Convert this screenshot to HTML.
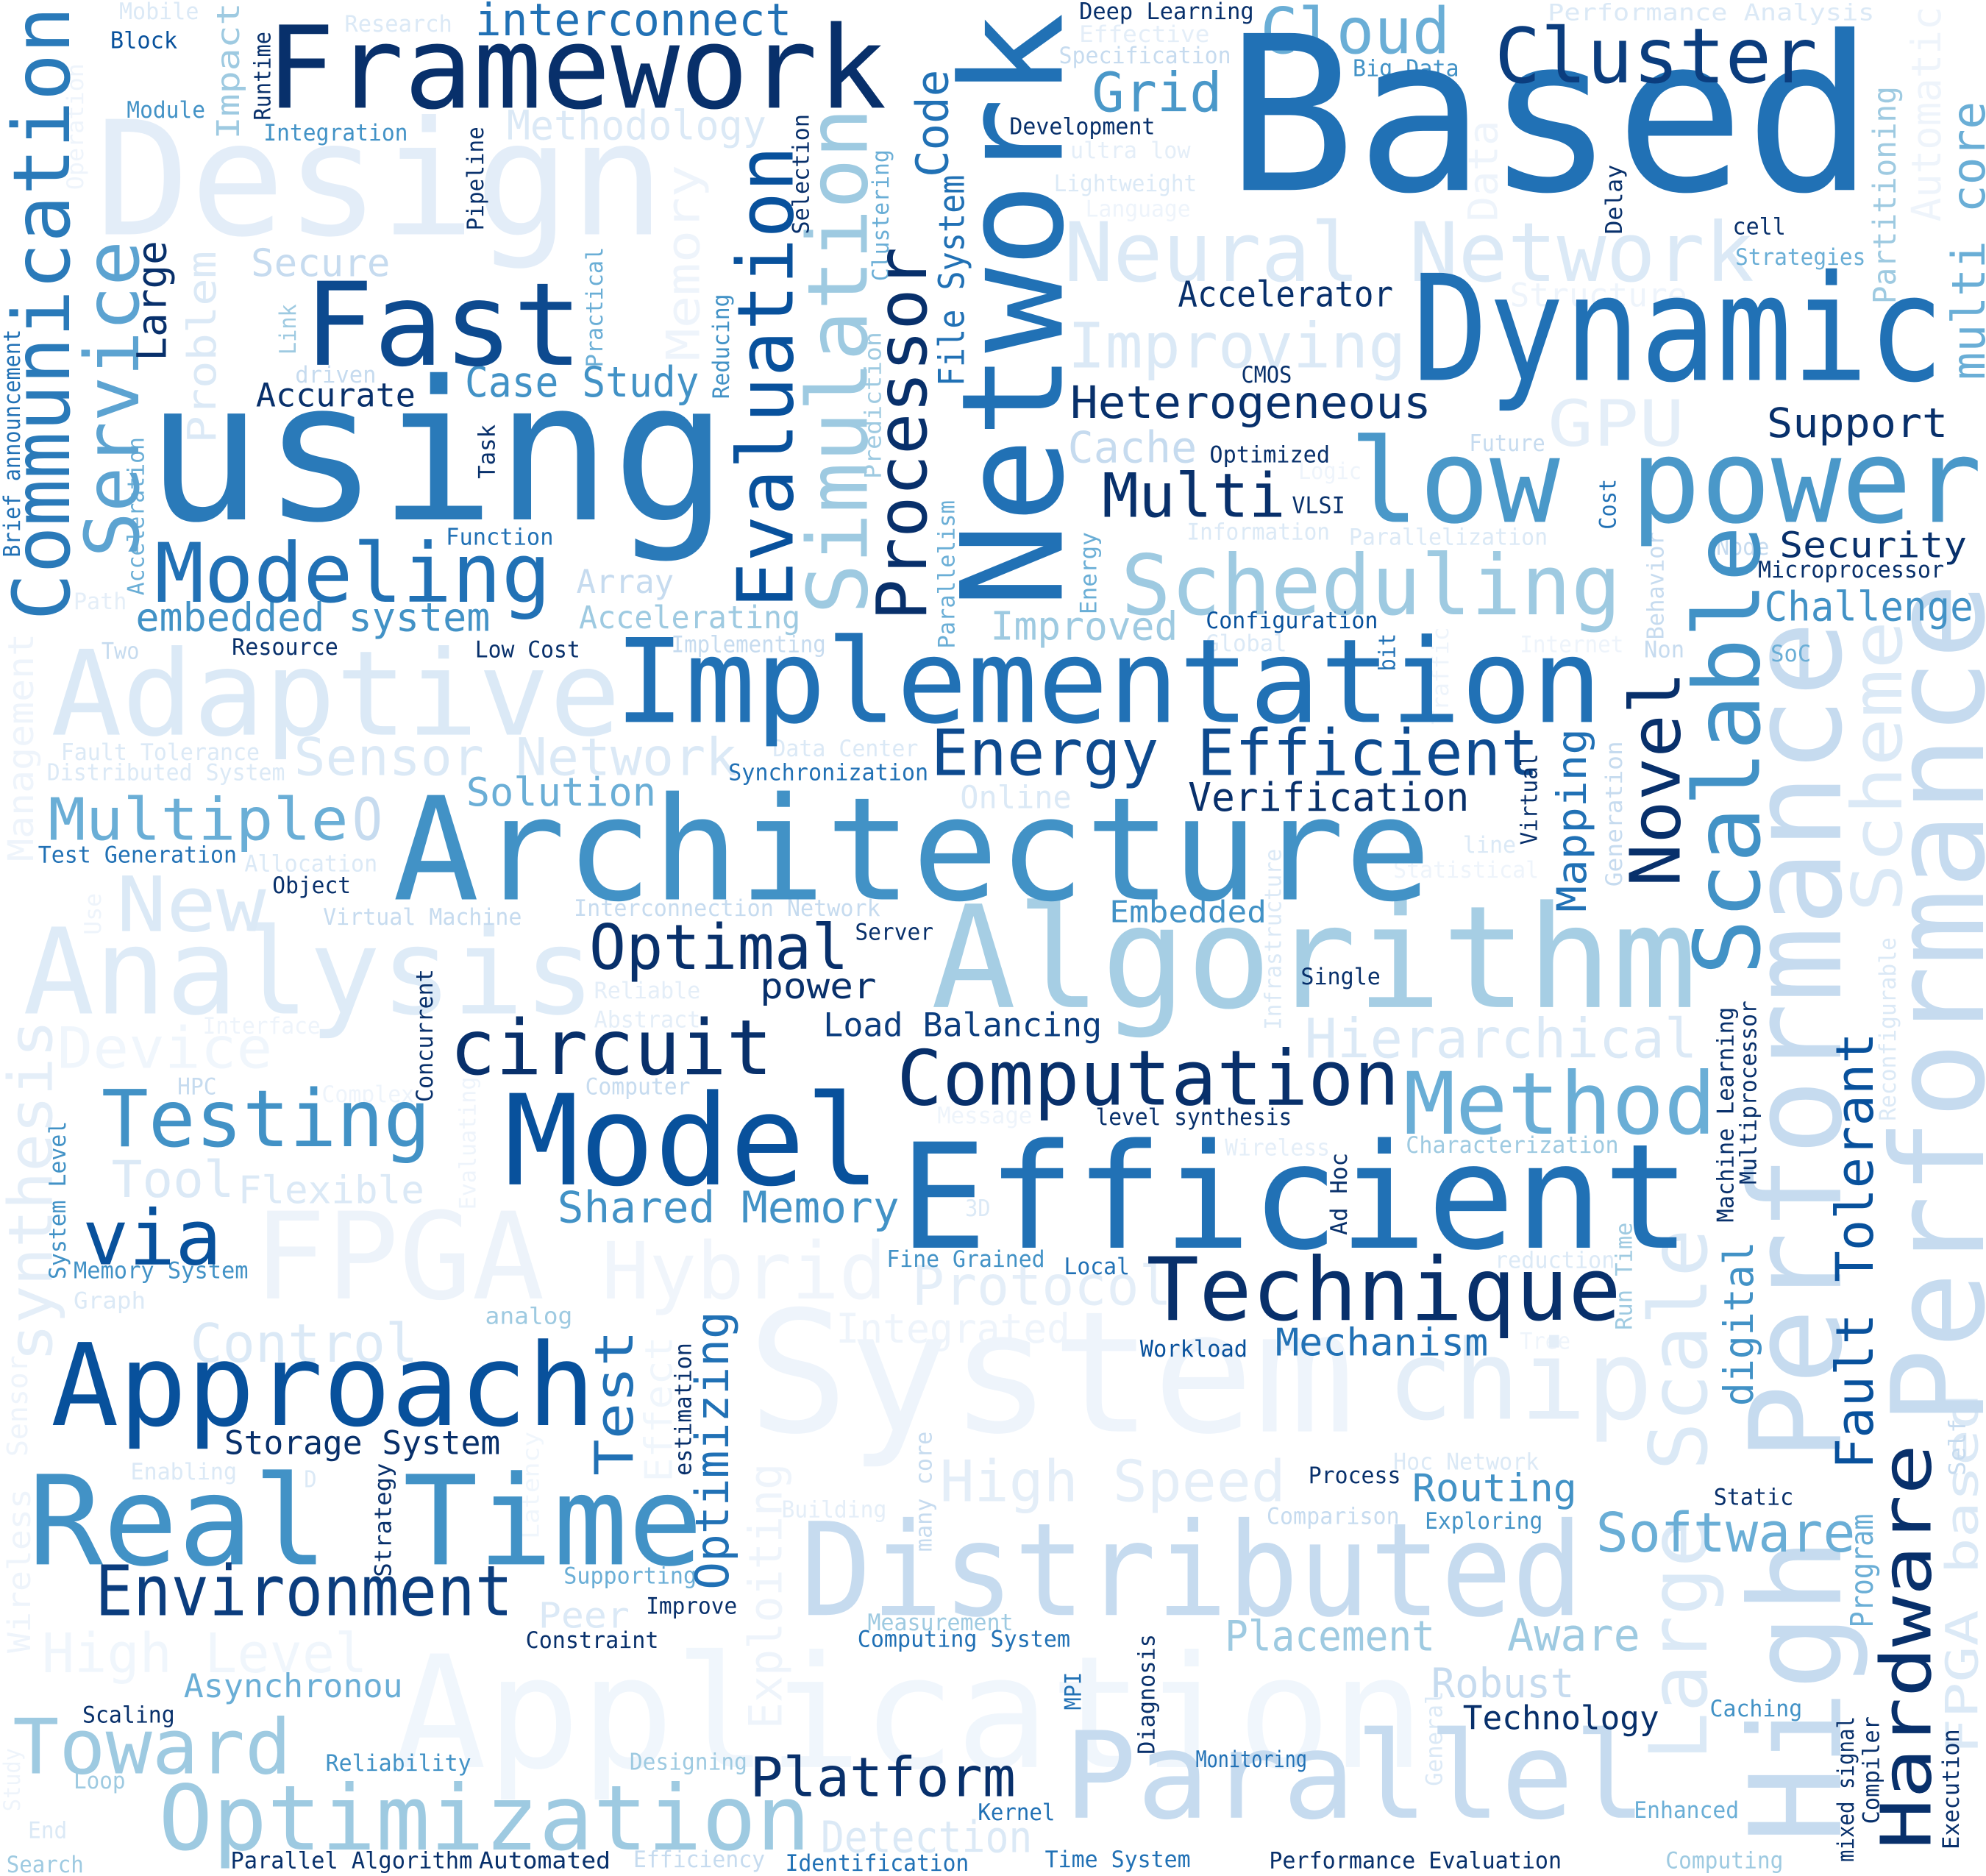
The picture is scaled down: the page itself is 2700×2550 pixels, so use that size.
<!DOCTYPE html>
<html>
<head>
<meta charset="utf-8">
<style>
  html,body{margin:0;padding:0;background:#fff;}
  #cloud{display:block;width:2700px;height:2550px;}
  text{font-family:"DejaVu Sans Mono","Liberation Mono",monospace;}
</style>
</head>
<body>
<svg id="cloud" viewBox="0 0 1568 1481" width="2700" height="2550" xmlns="http://www.w3.org/2000/svg">
  <rect x="0" y="0" width="1568" height="1481" fill="#ffffff"/>
  <g id="words"></g>
</svg>
<script>
// word, left, right, baseline(y), fontSize, color
const horizontalWords = [
["Based",968,1480,150,170,"#2171b5"],
["Design",75,525,185,125,"#e3edf8"],
["using",115,575,410,153,"#2a7ab9"],
["Framework",210,700,85,90,"#08306b"],
["Fast",240,460,288,91,"#0d4a8f"],
["Dynamic",1115,1535,300,116,"#2171b5"],
["low power",1065,1565,412,92,"#4a98c9"],
["Neural Network",840,1385,222,65,"#dbe9f6"],
["Cluster",1180,1435,65,60,"#0b3d7e"],
["Cloud",995,1145,42,50,"#6aaed6"],
["Grid",862,965,88,43,"#4a98c9"],
["interconnect",375,625,28,35,"#2171b5"],
["Implementation",485,1265,570,92,"#2171b5"],
["Adaptive",40,490,580,93,"#dbe9f6"],
["Architecture",310,1130,710,113,"#4292c6"],
["Algorithm",735,1340,795,112,"#a6cee4"],
["Analysis",18,470,800,94,"#deebf7"],
["Scheduling",885,1280,485,66,"#9ecae1"],
["Modeling",122,435,475,65,"#2171b5"],
["Energy Efficient",735,1215,612,50,"#0d4a8f"],
["Verification",938,1160,640,31,"#08306b"],
["Heterogeneous",845,1130,330,35,"#08306b"],
["Improving",843,1110,290,49,"#dbe9f6"],
["Accelerator",930,1100,242,28,"#08306b"],
["Multi",870,1015,408,48,"#08306b"],
["VLSI",1020,1062,405,18,"#08306b"],
["Cache",843,945,365,34,"#c6dbef"],
["Improved",782,930,505,31,"#9ecae1"],
["Optimal",465,670,765,49,"#08306b"],
["power",600,692,788,28,"#08306b"],
["circuit",355,610,848,60,"#08306b"],
["Computation",708,1105,872,60,"#08306b"],
["Model",398,695,935,99,"#08519c"],
["Efficient",710,1335,985,115,"#2171b5"],
["Method",1108,1355,895,68,"#6aaed6"],
["Hierarchical",1030,1340,835,43,"#dbe9f6"],
["Testing",80,340,905,62,"#4292c6"],
["Tool",88,185,945,40,"#dbe9f6"],
["Flexible",188,335,950,30,"#dbe9f6"],
["via",65,175,998,60,"#08519c"],
["FPGA",200,430,1025,95,"#edf3fa"],
["Hybrid",475,700,1025,62,"#f0f5fb"],
["Technique",905,1280,1042,69,"#08306b"],
["Protocol",720,925,1030,43,"#e4eef8"],
["Shared Memory",440,710,965,34,"#4292c6"],
["Mechanism",1007,1175,1070,30,"#2171b5"],
["Approach",40,470,1125,90,"#08519c"],
["Control",150,330,1075,42,"#dbe9f6"],
["Storage System",177,395,1148,26,"#08306b"],
["Real Time",22,555,1235,98,"#4292c6"],
["Environment",75,405,1275,55,"#0b3d7e"],
["System",590,1070,1130,133,"#eef4fb"],
["chip",1095,1305,1120,87,"#e4eef8"],
["High Speed",742,1015,1185,45,"#e4eef8"],
["Distributed",632,1250,1275,102,"#c6dbef"],
["Application",310,1125,1395,123,"#f0f6fc"],
["Parallel",840,1300,1435,95,"#c6dbef"],
["Optimization",125,640,1460,71,"#9ecae1"],
["Toward",10,230,1400,60,"#9ecae1"],
["High Level",33,290,1320,43,"#f0f6fc"],
["Asynchronou",145,318,1340,26,"#6aaed6"],
["Platform",592,802,1418,43,"#08306b"],
["Detection",648,815,1462,34,"#dbe9f6"],
["Routing",1115,1245,1185,30,"#4292c6"],
["Software",1260,1465,1225,43,"#6aaed6"],
["Placement",967,1133,1303,33,"#9ecae1"],
["Aware",1190,1295,1303,35,"#9ecae1"],
["Robust",1130,1243,1340,32,"#c6dbef"],
["Technology",1155,1310,1365,26,"#08306b"],
["Sensor Network",232,582,612,41,"#dbe9f6"],
["Solution",368,518,636,31,"#6aaed6"],
["Multiple",38,275,663,46,"#6aaed6"],
["O",278,302,663,46,"#c6dbef"],
["New",92,210,735,60,"#dbe9f6"],
["Device",45,215,843,45,"#f0f6fc"],
["embedded system",107,387,498,31,"#4292c6"],
["Case Study",367,552,313,33,"#4292c6"],
["Accurate",202,328,321,26,"#08306b"],
["Secure",198,308,218,30,"#c6dbef"],
["Methodology",400,605,110,32,"#dbe9f6"],
["Array",455,532,468,26,"#c6dbef"],
["Accelerating",457,632,496,25,"#9ecae1"],
["Embedded",876,1000,728,24,"#4292c6"],
["Challenge",1393,1558,490,32,"#4292c6"],
["Security",1405,1553,440,28,"#08306b"],
["Support",1395,1538,345,32,"#08306b"],
["GPU",1222,1330,352,50,"#e4eef8"],
["Structure",1192,1332,242,26,"#eef4fb"],
["Load Balancing",650,870,818,26,"#0b3d7e"],
["Online",758,846,638,25,"#dbe9f6"],
["Data Center",610,725,597,18,"#dbe9f6"],
["Synchronization",575,733,616,18,"#2171b5"],
["Fault Tolerance",48,205,600,18,"#dbe9f6"],
["Distributed System",37,225,616,18,"#dbe9f6"],
["Test Generation",30,187,681,18,"#2171b5"],
["Allocation",193,298,688,18,"#dbe9f6"],
["Object",215,277,705,18,"#08306b"],
["Virtual Machine",255,412,730,18,"#c6dbef"],
["Interconnection Network",453,695,723,18,"#c6dbef"],
["Reliable",469,553,788,18,"#e4eef8"],
["Abstract",469,553,811,18,"#e4eef8"],
["Interface",160,253,816,18,"#eef4fb"],
["Server",675,737,742,18,"#08306b"],
["Single",1027,1090,777,18,"#08306b"],
["level synthesis",865,1020,888,18,"#08306b"],
["Message",740,815,887,18,"#eef4fb"],
["Wireless",967,1050,912,18,"#e4eef8"],
["Characterization",1110,1278,910,18,"#9ecae1"],
["3D",762,782,960,18,"#dbe9f6"],
["Fine Grained",700,825,1000,18,"#4292c6"],
["Local",840,892,1006,18,"#2171b5"],
["reduction",1180,1275,1001,18,"#dbe9f6"],
["Integrated",660,845,1060,32,"#eef4fb"],
["Workload",900,985,1071,18,"#08519c"],
["Tree",1200,1240,1065,18,"#eef4fb"],
["Process",1033,1106,1171,18,"#08306b"],
["Hoc Network",1100,1215,1160,18,"#dbe9f6"],
["Comparison",1000,1105,1203,18,"#c6dbef"],
["Exploring",1125,1218,1207,18,"#4292c6"],
["Static",1353,1416,1188,18,"#08306b"],
["Measurement",685,800,1287,18,"#9ecae1"],
["Computing System",677,845,1300,18,"#2171b5"],
["Constraint",415,520,1301,18,"#08306b"],
["Improve",510,582,1274,18,"#08306b"],
["Supporting",445,550,1250,18,"#6aaed6"],
["Peer",425,497,1285,28,"#dbe9f6"],
["Building",617,700,1198,18,"#e4eef8"],
["Enabling",103,187,1168,18,"#dbe9f6"],
["D",240,250,1174,18,"#dbe9f6"],
["Scaling",65,138,1360,18,"#08306b"],
["Reliability",257,372,1398,18,"#4292c6"],
["Loop",58,99,1412,18,"#9ecae1"],
["Designing",497,590,1397,18,"#9ecae1"],
["Monitoring",944,1032,1395,18,"#2171b5"],
["Caching",1350,1423,1355,18,"#4292c6"],
["Kernel",772,833,1437,18,"#2171b5"],
["Enhanced",1290,1373,1435,18,"#6aaed6"],
["End",22,53,1451,18,"#dbe9f6"],
["Search",5,66,1478,18,"#9ecae1"],
["Parallel Algorithm",182,373,1475,18,"#08306b"],
["Automated",378,482,1475,18,"#08306b"],
["Efficiency",500,604,1474,18,"#c6dbef"],
["Identification",620,765,1477,18,"#2171b5"],
["Time System",825,940,1474,18,"#2171b5"],
["Performance Evaluation",1002,1233,1475,18,"#08306b"],
["Computing",1315,1408,1475,18,"#9ecae1"],
["Low Cost",375,458,519,18,"#08306b"],
["Resource",183,267,517,18,"#08306b"],
["Two",80,110,520,18,"#c6dbef"],
["Path",58,100,481,18,"#e4eef8"],
["Function",352,437,430,18,"#2171b5"],
["driven",233,297,302,18,"#c6dbef"],
["Implementing",530,652,515,18,"#c6dbef"],
["Configuration",952,1088,496,18,"#08519c"],
["Global",952,1016,514,18,"#dbe9f6"],
["Information",937,1050,426,18,"#dbe9f6"],
["Parallelization",1065,1222,430,18,"#dbe9f6"],
["Optimized",955,1050,365,18,"#08306b"],
["Logic",1025,1075,378,18,"#eef4fb"],
["CMOS",980,1020,302,18,"#08306b"],
["Future",1160,1220,356,18,"#c6dbef"],
["Node",1355,1397,438,18,"#c6dbef"],
["Microprocessor",1388,1535,456,18,"#08306b"],
["Internet",1200,1282,515,18,"#eef4fb"],
["SoC",1398,1430,522,18,"#6aaed6"],
["Non",1298,1330,519,18,"#c6dbef"],
["line",1155,1197,673,18,"#dbe9f6"],
["Statistical",1100,1215,693,18,"#eef4fb"],
["Deep Learning",852,990,15,18,"#08306b"],
["Effective",852,955,33,18,"#e4eef8"],
["Specification",836,972,50,18,"#c6dbef"],
["Big Data",1068,1152,60,18,"#4292c6"],
["Development",797,912,106,18,"#08306b"],
["ultra low",845,940,125,18,"#e4eef8"],
["Lightweight",832,945,151,18,"#dbe9f6"],
["Language",857,940,171,18,"#eef4fb"],
["cell",1368,1410,185,18,"#08306b"],
["Strategies",1370,1473,209,18,"#6aaed6"],
["Performance Analysis",1222,1480,16,18,"#dbe9f6"],
["Mobile",94,157,15,18,"#dbe9f6"],
["Block",87,140,38,18,"#08519c"],
["Research",272,357,25,18,"#dbe9f6"],
["Module",100,162,93,18,"#4292c6"],
["Integration",208,322,111,18,"#4292c6"],
["HPC",140,171,864,18,"#c6dbef"],
["Complex",254,327,870,18,"#eef4fb"],
["Computer",462,545,864,18,"#c6dbef"],
["Memory System",58,196,1009,18,"#4292c6"],
["Graph",58,115,1033,18,"#dbe9f6"],
["analog",383,452,1045,18,"#9ecae1"]
];
// word, columnLeft, bottom, top, fontSize, color
const verticalWords = [
["Communication",8,490,5,62,"#2a7ab9"],
["Service",65,440,190,59,"#5ca3d1"],
["Large",107,285,190,32,"#08306b"],
["Problem",147,350,198,31,"#dbe9f6"],
["Impact",170,110,2,25,"#9ecae1"],
["Runtime",200,95,25,18,"#08306b"],
["Operation",52,150,50,18,"#eef4fb"],
["Brief announcement",2,440,260,18,"#2171b5"],
["Acceleration",100,470,345,18,"#6aaed6"],
["Link",220,280,240,18,"#9ecae1"],
["Task",377,378,335,18,"#08306b"],
["Pipeline",368,182,100,18,"#08306b"],
["Practical",462,290,195,18,"#6aaed6"],
["Memory",525,285,130,36,"#eef4fb"],
["Reducing",562,315,232,18,"#4292c6"],
["Evaluation",580,480,115,61,"#08519c"],
["Selection",625,185,90,18,"#08306b"],
["Simulation",635,485,85,66,"#9ecae1"],
["Clustering",688,222,118,18,"#6aaed6"],
["Prediction",682,378,262,18,"#9ecae1"],
["Processor",690,490,195,55,"#08306b"],
["Code",722,140,55,35,"#2171b5"],
["File System",740,305,138,28,"#2171b5"],
["Network",755,480,10,111,"#2171b5"],
["Parallelism",740,512,395,18,"#6aaed6"],
["Energy",852,485,420,18,"#6aaed6"],
["Delay",1267,185,130,18,"#08306b"],
["Data",1158,175,95,32,"#eef4fb"],
["Partitioning",1478,240,68,25,"#9ecae1"],
["Automatic",1508,175,5,32,"#eef4fb"],
["multi core",1540,300,80,36,"#6aaed6"],
["Cost",1262,418,378,18,"#2171b5"],
["bit",1088,530,500,18,"#2171b5"],
["Traffic",1130,572,495,18,"#eef4fb"],
["Behavior",1300,505,420,18,"#c6dbef"],
["Novel",1285,700,530,55,"#08306b"],
["Scalable",1335,770,415,72,"#4292c6"],
["High Performance",1378,1455,490,100,"#c6dbef"],
["Scheme",1460,720,490,55,"#dbe9f6"],
["Performance",1490,1125,460,101,"#c6dbef"],
["Large Scale",1300,1390,970,63,"#dbe9f6"],
["Hardware",1483,1460,1140,55,"#08306b"],
["Fault Tolerant",1448,1160,815,41,"#08519c"],
["Program",1460,1285,1195,25,"#6aaed6"],
["Self",1538,1165,1120,18,"#c6dbef"],
["FPGA based",1535,1385,1100,35,"#dbe9f6"],
["Reconfigurable",1483,885,740,18,"#dbe9f6"],
["Machine Learning",1355,965,795,18,"#08306b"],
["Multiprocessor",1373,935,790,18,"#08306b"],
["digital",1360,1110,980,32,"#4292c6"],
["Mapping",1228,720,575,32,"#2171b5"],
["Generation",1267,700,585,18,"#c6dbef"],
["Virtual",1200,667,595,18,"#08306b"],
["Run Time",1275,1050,965,18,"#9ecae1"],
["Infrastructure",998,813,670,18,"#dbe9f6"],
["Ad Hoc",1050,975,910,18,"#08306b"],
["Concurrent",328,870,765,18,"#08306b"],
["Evaluating",362,955,850,18,"#eef4fb"],
["System Level",38,1010,885,18,"#4292c6"],
["synthesis",5,1075,805,48,"#e4eef8"],
["Management",5,680,500,28,"#eef4fb"],
["Use",66,738,705,18,"#eef4fb"],
["Sensor",5,1150,1070,22,"#eef4fb"],
["Wireless",5,1305,1175,25,"#eef4fb"],
["Study",2,1430,1380,18,"#eef4fb"],
["Test",468,1165,1050,42,"#2171b5"],
["Effect",508,1170,1055,30,"#f0f6fc"],
["estimation",532,1165,1060,18,"#08306b"],
["Optimizing",548,1255,1035,36,"#2171b5"],
["Exploiting",590,1365,1155,36,"#eef4fb"],
["Latency",412,1215,1130,18,"#f0f6fc"],
["Strategy",295,1245,1155,18,"#08306b"],
["many core",722,1225,1130,18,"#c6dbef"],
["MPI",840,1350,1320,18,"#2171b5"],
["Diagnosis",898,1385,1290,18,"#08306b"],
["General",1125,1410,1335,18,"#dbe9f6"],
["mixed signal",1450,1470,1355,18,"#08306b"],
["Compiler",1470,1440,1355,18,"#08306b"],
["Execution",1533,1460,1365,18,"#08306b"]
];

const NS = "http://www.w3.org/2000/svg";
const group = document.getElementById("words");
function slug(s){return s.toLowerCase().replace(/[^a-z0-9]+/g,"-").replace(/^-|-$/g,"");}
function lum(c){const n=parseInt(c.slice(1),16);return ((n>>16)&255)+((n>>8)&255)+(n&255);}

const items = [];
horizontalWords.forEach(function(w){ items.push({w:w, v:false}); });
verticalWords.forEach(function(w){ items.push({w:w, v:true}); });
// lightest words drawn first so darker words sit on top
items.sort(function(a,b){ return lum(b.w[5]) - lum(a.w[5]); });

items.forEach(function(it){
  const w = it.w;
  const t = document.createElementNS(NS,"text");
  t.setAttribute("font-size", w[4]);
  t.setAttribute("fill", w[5]);
  t.setAttribute("lengthAdjust", "spacingAndGlyphs");
  if (!it.v) {
    t.setAttribute("x", w[1]);
    t.setAttribute("y", w[3]);
    t.setAttribute("textLength", w[2]-w[1]);
  } else {
    const bx = w[1] + 0.75*w[4];
    t.setAttribute("transform", "translate(" + bx + "," + w[2] + ") rotate(-90)");
    t.setAttribute("x", 0);
    t.setAttribute("y", 0);
    t.setAttribute("textLength", w[2]-w[3]);
  }
  t.textContent = w[0];
  
  
  group.appendChild(t);
});
</script>
</body>
</html>
